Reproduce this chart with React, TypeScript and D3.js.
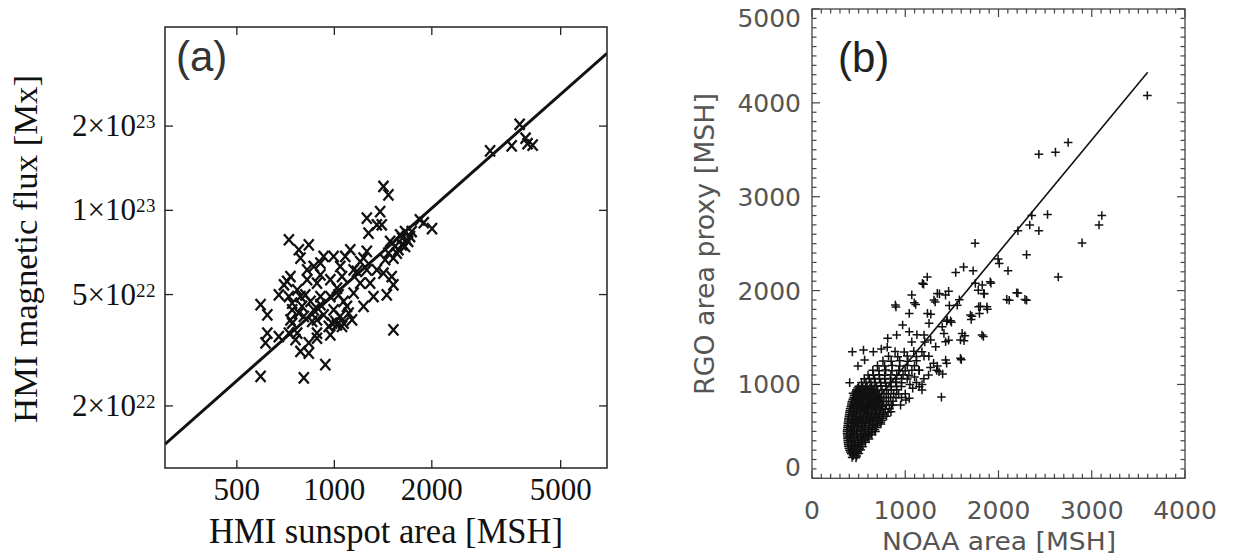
import React, { useEffect, useRef } from "react";
import * as d3 from "d3";

// ---- panel (a): HMI sunspot area [MSH] vs magnetic flux [1e22 Mx]
const aPoints: [number, number][] = [
  [1418, 12.17], [1469, 11.36], [1385, 9.9], [1260, 9.38], [1353, 8.88], [1401, 8.88], [1275, 8.29],
  [1837, 9.25], [1653, 8.4], [1596, 8.18], [1713, 8.06], [724, 7.85], [777, 7.23], [834, 7.53],
  [786, 6.75], [927, 6.84], [995, 6.84], [1120, 7.23], [1081, 6.84], [1260, 7.13], [1231, 6.75],
  [1487, 7.74], [1541, 7.43], [1522, 6.75], [864, 6.3], [1043, 6.3], [906, 5.88], [732, 5.8],
  [699, 5.42], [674, 4.99], [768, 5.2], [824, 5.65], [884, 5.49], [972, 5.65], [1019, 5.27],
  [1174, 6.05], [1260, 6.13], [1353, 6.13], [1418, 5.96], [1202, 5.49], [1290, 5.49], [1504, 5.8],
  [1522, 5.42], [1452, 4.99], [1321, 4.92], [1231, 4.54], [1147, 5.06], [786, 4.92], [844, 4.73],
  [906, 4.92], [972, 4.92], [1068, 4.73], [592, 4.6], [621, 4.23], [741, 4.41], [795, 4.54],
  [864, 4.41], [995, 4.41], [1043, 4.18], [1107, 4.29], [732, 4.06], [884, 4.06], [927, 4.23],
  [1019, 3.9], [1068, 3.95], [621, 3.64], [613, 3.36], [674, 3.54], [724, 3.64], [768, 3.64],
  [884, 3.64], [972, 3.59], [759, 3.45], [834, 3.36], [786, 3.13], [834, 3.09], [884, 3.49],
  [938, 2.81], [592, 2.55], [805, 2.52], [1522, 3.74], [961, 3.85], [1007, 4.01], [777, 4.29],
  [814, 4.99], [741, 4.66], [715, 5.57], [1673, 7.85], [1615, 7.53], [1733, 8.4], [1559, 7.03],
  [1435, 6.66], [1202, 6.56], [1147, 6.13], [1056, 5.8], [1620, 7.95], [1690, 7.74], [1578, 7.23],
  [1469, 7.03], [1653, 7.43], [1031, 4.99], [1094, 4.54], [1056, 3.85], [984, 3.95], [1134, 4.06],
  [854, 4.01], [805, 4.18], [741, 3.95], [906, 4.6], [724, 4.92], [824, 6.13], [906, 6.48],
  [1889, 9.03], [2003, 8.6], [3027, 16.3], [3529, 17.0], [3735, 20.3], [3895, 18.1], [3950, 17.3],
  [4097, 17.1],
];
const fitAreaA = [300, 6950];
const fitFluxA = [1.46, 36.4];
const aXTicks = [500, 1000, 2000, 5000];
const aYTicks = [2, 5, 10, 20];
const aYTickLabels: [string, string][] = [["2", "22"], ["5", "22"], ["1", "23"], ["2", "23"]];

// ---- panel (b): NOAA area vs RGO area proxy [MSH]
const bSparse: [number, number][] = [
  [3596, 4079], [2747, 3578], [2611, 3475], [2433, 3452], [3108, 2800], [3078, 2698], [2896, 2508],
  [2641, 2144], [2526, 2811], [2357, 2800], [2335, 2698], [2433, 2637], [2208, 2637], [2301, 2383],
  [2102, 2212], [2208, 1973], [2115, 1897], [2301, 1897], [1749, 2504], [1996, 2337], [2008, 2288],
  [1919, 2079], [1626, 2250], [1541, 2193], [1728, 2212], [1826, 2060], [1783, 2003], [1847, 1965],
  [1805, 1832], [1796, 1757], [1881, 1802], [1838, 1510], [1715, 1726], [1707, 1692], [1639, 1518],
  [1630, 1465], [1601, 1263], [1580, 1901], [1558, 1844], [1473, 1840], [1465, 1992], [1367, 1965],
  [1321, 1878], [1236, 2144], [1197, 2068], [1070, 1954], [1112, 1851], [900, 1825], [1274, 1749],
  [1444, 1673], [1495, 1662], [1465, 1472], [1444, 1225], [1388, 865], [433, 1347], [552, 1366],
  [658, 1347], [743, 1377], [807, 1396], [972, 1633], [1043, 1562], [908, 1526], [812, 1491],
  [894, 1846], [1096, 1871], [1184, 2077], [1308, 1899], [1238, 1757], [1344, 1970], [1432, 1952],
  [1450, 1686], [1255, 1651], [1202, 1526], [1273, 1473], [1326, 1402], [1397, 1615], [1486, 1679],
  [1415, 1544], [1433, 1455], [1610, 1544], [1592, 1473], [1592, 1278], [1433, 1260], [1344, 1196],
  [1362, 1136], [1149, 976], [1043, 852], [1007, 834], [865, 781], [847, 710], [404, 1019],
  [493, 1196], [564, 1260], [1699, 1739], [1787, 1828], [1823, 1526], [1911, 2094], [1752, 2077],
  [1841, 1970], [1876, 1828], [2089, 1906], [2195, 1977], [2284, 1906], [1043, 1757], [440, 905],
  [1070, 1453], [1125, 1529], [1210, 1453], [1337, 1150], [1401, 1112], [1304, 1225], [1180, 941],
  [1146, 1150], [1253, 1301], [950, 780], [1000, 900], [1080, 960], [1120, 1020], [1200, 1060],
  [1250, 1100], [960, 860], [1050, 1000], [1180, 1000], [1270, 1180], [1100, 1080], [1150, 1150],
];
const bDense: [number, number][] = [
  [430, 222], [472, 218], [421, 262], [455, 258], [502, 265],
  [402, 300], [441, 305], [480, 298], [522, 303],
  [390, 342], [426, 338], [462, 345], [500, 340], [541, 336],
  [385, 380], [420, 384], [456, 378], [495, 382], [536, 377], [574, 383],
  [381, 421], [414, 418], [451, 425], [489, 420], [531, 417], [569, 424], [611, 419],
  [378, 462], [411, 458], [446, 465], [484, 460], [526, 456], [566, 463], [604, 459], [641, 464],
  [375, 500], [409, 505], [444, 498], [481, 503], [521, 499], [559, 504], [601, 497], [640, 502], [681, 499],
  [380, 541], [416, 538], [451, 545], [489, 540], [531, 536], [571, 543], [609, 539], [651, 544], [690, 540],
  [386, 580], [419, 584], [456, 578], [494, 583], [536, 579], [574, 585], [616, 580], [655, 576], [701, 582], [739, 579],
  [389, 621], [426, 617], [461, 624], [500, 619], [541, 622], [579, 616], [621, 623], [660, 618], [706, 621], [749, 617],
  [396, 660], [431, 664], [469, 657], [511, 662], [549, 659], [591, 665], [629, 658], [671, 663], [714, 660], [761, 656], [799, 662],
  [401, 701], [439, 697], [481, 704], [519, 699], [561, 703], [599, 696], [641, 702], [679, 698], [726, 701], [769, 697], [816, 703],
  [409, 740], [451, 744], [489, 738], [531, 742], [569, 737], [611, 743], [649, 739], [696, 745], [739, 740], [786, 736], [829, 742],
  [421, 781], [459, 777], [501, 783], [539, 779], [581, 784], [619, 778], [666, 782], [709, 776], [756, 781], [799, 785], [851, 779],
  [429, 820], [471, 824], [509, 818], [551, 822], [589, 817], [636, 823], [679, 819], [726, 825], [769, 820], [821, 816], [869, 822],
  [446, 861], [484, 857], [526, 863], [564, 858], [611, 862], [654, 856], [701, 861], [744, 865], [796, 859], [844, 863], [901, 858],
  [459, 900], [501, 905], [539, 899], [586, 903], [629, 897], [676, 902], [719, 898], [771, 904], [819, 899], [876, 903], [929, 897],
  [481, 941], [519, 937], [561, 943], [604, 938], [651, 942], [699, 936], [751, 941], [799, 945], [851, 939], [909, 943],
  [501, 980], [544, 984], [591, 978], [639, 983], [691, 979], [739, 985], [796, 980], [849, 976], [906, 982], [959, 978],
  [531, 1021], [579, 1017], [631, 1023], [679, 1018], [736, 1022], [789, 1016], [846, 1021], [899, 1025], [961, 1019],
  [561, 1060], [614, 1064], [671, 1058], [724, 1063], [781, 1057], [839, 1062], [901, 1058], [959, 1064], [1021, 1059],
  [601, 1101], [659, 1097], [721, 1103], [779, 1098], [846, 1104], [909, 1099], [976, 1102], [1039, 1097],
  [652, 1150], [719, 1146], [791, 1153], [858, 1147], [931, 1151], [999, 1145], [1071, 1152],
  [702, 1200], [779, 1196], [861, 1203], [939, 1197], [1021, 1202], [1099, 1198],
  [761, 1251], [849, 1247], [941, 1253], [1029, 1248], [1121, 1252],
  [821, 1300], [919, 1296], [1021, 1303], [1119, 1298], [1201, 1302],
  [891, 1350], [989, 1346], [1091, 1353], [1179, 1348],
];
// the solid core of the cloud, between the rows above
const bCore: [number, number][] = [
  [441, 241], [479, 238],
  [411, 281], [452, 279], [489, 284],
  [396, 321], [434, 318], [471, 323], [509, 320],
  [388, 361], [423, 358], [457, 363], [497, 360], [521, 357],
  [383, 401], [417, 398], [454, 403], [492, 400], [532, 397], [561, 402],
  [380, 441], [413, 438], [447, 443], [486, 440], [528, 437], [566, 442], [599, 439],
  [376, 481], [411, 478], [445, 483], [483, 480], [524, 477], [561, 482], [602, 479], [631, 484],
  [378, 521], [413, 518], [446, 523], [486, 520], [524, 517], [566, 522], [604, 519], [646, 524], [674, 521],
  [383, 561], [417, 558], [454, 563], [491, 560], [534, 557], [571, 562], [613, 559], [649, 564], [691, 561],
  [387, 601], [421, 598], [459, 603], [496, 600], [539, 597], [576, 602], [619, 599], [657, 604], [699, 601], [736, 598],
  [392, 641], [429, 638], [464, 643], [506, 640], [544, 637], [586, 642], [624, 639], [666, 644], [709, 641], [751, 638],
  [398, 681], [434, 678], [476, 683], [514, 680], [556, 677], [594, 682], [636, 679], [674, 684], [721, 681], [764, 678],
  [405, 721], [446, 718], [484, 723], [526, 720], [564, 717], [606, 722], [644, 719], [691, 724], [731, 721],
  [416, 761], [454, 758], [496, 763], [534, 760], [576, 757], [614, 762], [658, 759], [699, 764], [746, 761],
  [424, 801], [466, 798], [504, 803], [546, 800], [584, 797], [629, 802], [671, 799], [716, 804],
  [438, 841], [476, 838], [518, 843], [556, 840], [601, 837], [644, 842], [691, 839], [734, 844],
  [451, 881], [493, 878], [531, 883], [576, 880], [619, 877], [666, 882], [709, 879],
  [471, 921], [509, 918], [551, 923], [594, 920], [641, 917], [687, 922],
  [489, 961], [533, 958], [574, 963], [621, 960], [667, 957],
];
const fitNoaa = [360, 3600];
const fitRgo = [436, 4325];
const bXTicks = [0, 1000, 2000, 3000, 4000];
const bYTicks = [0, 1000, 2000, 3000, 4000, 5000];

const SERIF = "'Liberation Serif', 'Times New Roman', serif";
const SANS = "'DejaVu Sans ExtraLight', 'DejaVu Sans', sans-serif";
const LABEL_SANS = "'Liberation Sans', Arial, sans-serif";

function drawA(svg: d3.Selection<SVGSVGElement, unknown, null, undefined>) {
  const L = 165, R = 607, T = 27, B = 468;
  const x = d3.scaleLog().domain([300, 6950]).range([L, R]);
  const y = d3.scaleLog().domain([1.2, 45.2]).range([B, T]);
  const g = svg.append("g");

  g.append("clipPath").attr("id", "clipA")
    .append("rect").attr("x", L).attr("y", T).attr("width", R - L).attr("height", B - T);

  g.append("path")
    .datum(d3.zip(fitAreaA, fitFluxA))
    .attr("clip-path", "url(#clipA)")
    .attr("fill", "none")
    .attr("stroke", "#111")
    .attr("stroke-width", 3)
    .attr("d", d3.line<number[]>().x((d) => x(d[0])).y((d) => y(d[1])));

  g.selectAll("path.xmark")
    .data(aPoints)
    .join("path")
    .attr("class", "xmark")
    .attr("transform", (d) => `translate(${x(d[0])},${y(d[1])})`)
    .attr("d", "M-5,-5.6L5,5.6M-5,5.6L5,-5.6")
    .attr("stroke", "#111")
    .attr("stroke-width", 2.3)
    .attr("fill", "none");

  g.append("rect")
    .attr("x", L).attr("y", T).attr("width", R - L).attr("height", B - T)
    .attr("fill", "none").attr("stroke", "#222").attr("stroke-width", 1.5);

  const tl = 8;
  aXTicks.forEach((t) => {
    g.append("line").attr("x1", x(t)).attr("x2", x(t)).attr("y1", B).attr("y2", B - tl).attr("stroke", "#222").attr("stroke-width", 1.3);
    g.append("line").attr("x1", x(t)).attr("x2", x(t)).attr("y1", T).attr("y2", T + tl).attr("stroke", "#222").attr("stroke-width", 1.3);
    g.append("text").attr("x", x(t)).attr("y", 500).attr("text-anchor", "middle")
      .attr("font-family", SERIF).attr("font-size", 31).attr("fill", "#111").text(String(t));
  });
  aYTicks.forEach((t, i) => {
    g.append("line").attr("x1", L).attr("x2", L + tl).attr("y1", y(t)).attr("y2", y(t)).attr("stroke", "#222").attr("stroke-width", 1.3);
    g.append("line").attr("x1", R).attr("x2", R - tl).attr("y1", y(t)).attr("y2", y(t)).attr("stroke", "#222").attr("stroke-width", 1.3);
    const txt = g.append("text").attr("x", 156).attr("y", y(t) + 10).attr("text-anchor", "end")
      .attr("font-family", SERIF).attr("font-size", 31).attr("fill", "#111");
    txt.append("tspan").text(`${aYTickLabels[i][0]}×10`);
    txt.append("tspan").attr("dy", -8).attr("font-size", 19).attr("letter-spacing", 0.5).text(aYTickLabels[i][1]);
  });

  g.append("text").attr("x", 386).attr("y", 543).attr("text-anchor", "middle")
    .attr("font-family", SERIF).attr("font-size", 35).attr("fill", "#111")
    .attr("textLength", 354).attr("lengthAdjust", "spacingAndGlyphs")
    .text("HMI sunspot area [MSH]");
  g.append("text").attr("transform", "translate(37,249) rotate(-90)").attr("text-anchor", "middle")
    .attr("font-family", SERIF).attr("font-size", 34).attr("fill", "#111")
    .attr("textLength", 348).attr("lengthAdjust", "spacingAndGlyphs")
    .text("HMI magnetic flux [Mx]");
  g.append("text").attr("x", 176).attr("y", 71)
    .attr("font-family", LABEL_SANS).attr("font-size", 42).attr("fill", "#333").text("(a)");
}

function drawB(svg: d3.Selection<SVGSVGElement, unknown, null, undefined>) {
  const L = 812, R = 1185, T = 9, B = 478.3;
  const x = d3.scaleLinear().domain([0, 4000]).range([L, R]);
  const y = d3.scaleLinear().domain([0, 5000]).range([B, T]);
  const g = svg.append("g");

  g.selectAll("path.plus")
    .data([...bCore, ...bDense, ...bSparse])
    .join("path")
    .attr("class", "plus")
    .attr("transform", (d) => `translate(${x(d[0])},${y(d[1])})`)
    .attr("d", "M-4.3,0H4.3M0,-4.3V4.3")
    .attr("stroke", "#111")
    .attr("stroke-width", 1.5)
    .attr("fill", "none");

  g.append("path")
    .datum(d3.zip(fitNoaa, fitRgo))
    .attr("fill", "none")
    .attr("stroke", "#111")
    .attr("stroke-width", 1.6)
    .attr("d", d3.line<number[]>().x((d) => x(d[0])).y((d) => y(d[1])));

  g.append("rect")
    .attr("x", L).attr("y", T).attr("width", R - L).attr("height", B - T)
    .attr("fill", "none").attr("stroke", "#444").attr("stroke-width", 1.3);

  const tickCol = "#444";
  d3.range(0, 4001, 100).forEach((t) => {
    const len = t % 1000 === 0 ? 8 : 4.5;
    g.append("line").attr("x1", x(t)).attr("x2", x(t)).attr("y1", B).attr("y2", B - len).attr("stroke", tickCol).attr("stroke-width", 1.2);
    g.append("line").attr("x1", x(t)).attr("x2", x(t)).attr("y1", T).attr("y2", T + len).attr("stroke", tickCol).attr("stroke-width", 1.2);
  });
  d3.range(0, 5001, 100).forEach((t) => {
    const len = t % 1000 === 0 ? 8 : 4.5;
    g.append("line").attr("x1", L).attr("x2", L + len).attr("y1", y(t)).attr("y2", y(t)).attr("stroke", tickCol).attr("stroke-width", 1.2);
    g.append("line").attr("x1", R).attr("x2", R - len).attr("y1", y(t)).attr("y2", y(t)).attr("stroke", tickCol).attr("stroke-width", 1.2);
  });

  bXTicks.forEach((t) => {
    g.append("text").attr("x", x(t)).attr("y", 519).attr("text-anchor", "middle")
      .attr("font-family", SANS).attr("font-size", 25).attr("fill", "#555").text(String(t));
  });
  bYTicks.forEach((t) => {
    const shift = t === 0 ? -11 : t === 5000 ? 9 : 0;
    g.append("text").attr("x", 801).attr("y", y(t) + 9 + shift).attr("text-anchor", "end")
      .attr("font-family", SANS).attr("font-size", 25).attr("fill", "#555").text(String(t));
  });

  g.append("text").attr("x", 999).attr("y", 549.5).attr("text-anchor", "middle")
    .attr("font-family", SANS).attr("font-size", 25).attr("fill", "#555")
    .attr("textLength", 234).attr("lengthAdjust", "spacingAndGlyphs")
    .text("NOAA area [MSH]");
  g.append("text").attr("transform", "translate(714,244) rotate(-90)").attr("text-anchor", "middle")
    .attr("font-family", SANS).attr("font-size", 27).attr("fill", "#555")
    .attr("textLength", 302).attr("lengthAdjust", "spacingAndGlyphs")
    .text("RGO area proxy [MSH]");
  g.append("text").attr("x", 838).attr("y", 72)
    .attr("font-family", LABEL_SANS).attr("font-size", 42).attr("fill", "#222").text("(b)");
}

function App() {
  const svgRef = useRef<SVGSVGElement>(null);

  useEffect(() => {
    const svg = d3.select(svgRef.current!);
    svg.selectAll("*").remove();
    drawA(svg);
    drawB(svg);
  }, []);

  return (
    <svg
      ref={svgRef}
      width={1234}
      height={556}
      style={{ position: "absolute", left: 0, top: 0, background: "#fff" }}
    />
  );
}

export default App;
